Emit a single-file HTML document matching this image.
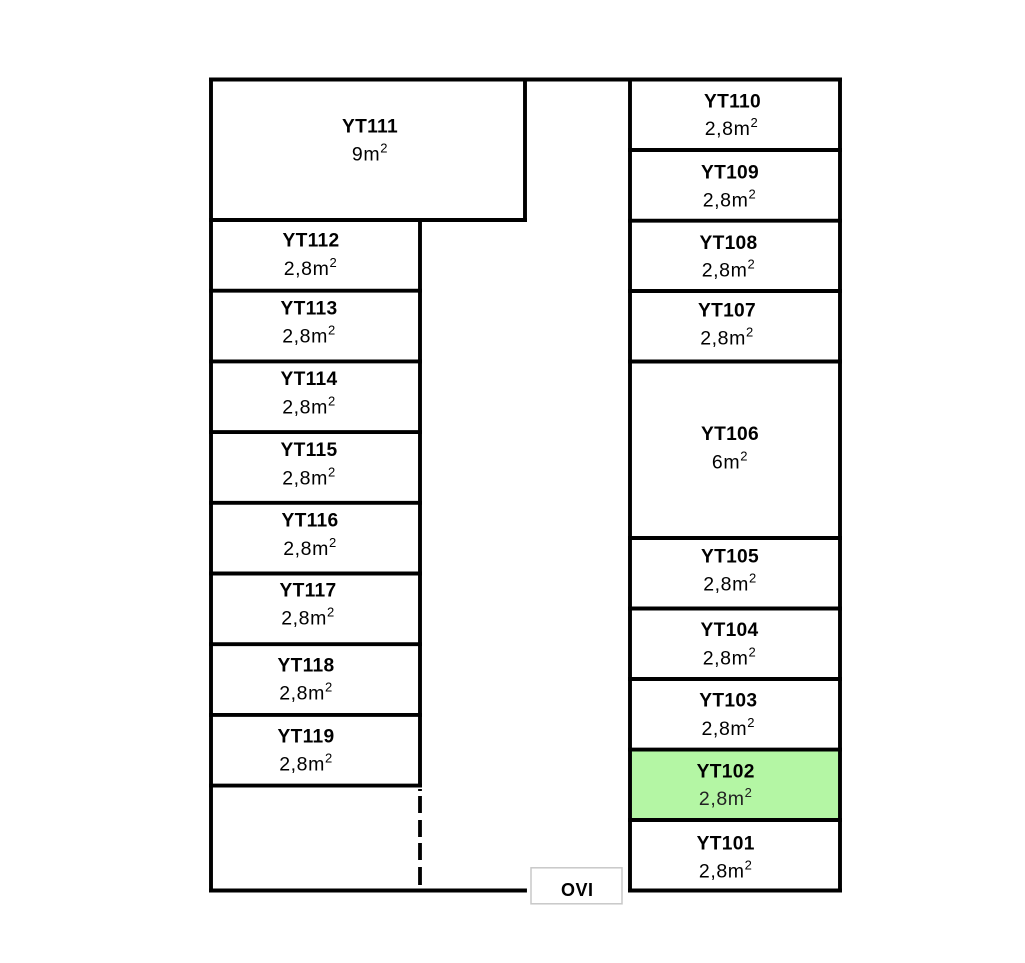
<!DOCTYPE html>
<html>
<head>
<meta charset="utf-8">
<style>
html,body{margin:0;padding:0;background:#fff;}
svg{display:block;}
.l{font-family:"Liberation Sans",Arial,sans-serif;font-weight:bold;font-size:19.2px;letter-spacing:0.3px;fill:#000;}
.v{font-family:"Liberation Sans",Arial,sans-serif;font-size:19.5px;letter-spacing:0.6px;fill:#000;}
</style>
</head>
<body>
<svg width="1025" height="963" viewBox="0 0 1025 963" xmlns="http://www.w3.org/2000/svg">
<rect x="0" y="0" width="1025" height="963" fill="#fff"/>
<rect x="630" y="749.6" width="210" height="70.4" fill="#b4f6a4"/>
<g stroke="#000" stroke-width="3.9" fill="none" stroke-linecap="square">
  <line x1="211" y1="79.5" x2="840" y2="79.5"/>
  <line x1="211" y1="79.5" x2="211" y2="890.5"/>
  <line x1="525" y1="79.5" x2="525" y2="220"/>
  <line x1="211" y1="220" x2="525" y2="220"/>
  <line x1="420" y1="220" x2="420" y2="785.6"/>
  <line x1="211" y1="290.7" x2="420" y2="290.7"/>
  <line x1="211" y1="361.4" x2="420" y2="361.4"/>
  <line x1="211" y1="432.1" x2="420" y2="432.1"/>
  <line x1="211" y1="502.8" x2="420" y2="502.8"/>
  <line x1="211" y1="573.5" x2="420" y2="573.5"/>
  <line x1="211" y1="644.2" x2="420" y2="644.2"/>
  <line x1="211" y1="714.9" x2="420" y2="714.9"/>
  <line x1="211" y1="785.6" x2="420" y2="785.6"/>
  <line x1="211" y1="890.5" x2="525" y2="890.5"/>
  <line x1="630" y1="79.5" x2="630" y2="890.5"/>
  <line x1="840" y1="79.5" x2="840" y2="890.5"/>
  <line x1="630" y1="890.5" x2="840" y2="890.5"/>
  <line x1="630" y1="150" x2="840" y2="150"/>
  <line x1="630" y1="220.7" x2="840" y2="220.7"/>
  <line x1="630" y1="291" x2="840" y2="291"/>
  <line x1="630" y1="361.5" x2="840" y2="361.5"/>
  <line x1="630" y1="538" x2="840" y2="538"/>
  <line x1="630" y1="608.5" x2="840" y2="608.5"/>
  <line x1="630" y1="679" x2="840" y2="679"/>
  <line x1="630" y1="749.6" x2="840" y2="749.6"/>
  <line x1="630" y1="820" x2="840" y2="820"/>
</g>
<g fill="#000">
  <rect x="418.1" y="789" width="3.8" height="2"/>
  <rect x="418.1" y="796" width="3.8" height="17"/>
  <rect x="418.1" y="820" width="3.8" height="17"/>
  <rect x="418.1" y="843" width="3.8" height="17"/>
  <rect x="418.1" y="867" width="3.8" height="18"/>
</g>
<rect x="531" y="867.8" width="91" height="36" fill="#fff" stroke="#c8c8c8" stroke-width="1.5"/>
<text class="l" x="577.3" y="896" text-anchor="middle" style="font-size:18px;letter-spacing:0.5px">OVI</text>

<text class="l" x="370" y="132.7" text-anchor="middle">YT111</text>
<text class="v" x="370" y="160.7" text-anchor="middle">9m<tspan font-size="13" dy="-8">2</tspan></text>

<text class="l" x="311" y="246.7" text-anchor="middle">YT112</text>
<text class="v" x="310.5" y="275" text-anchor="middle">2,8m<tspan font-size="13" dy="-8">2</tspan></text>

<text class="l" x="309" y="314.5" text-anchor="middle">YT113</text>
<text class="v" x="309" y="342.5" text-anchor="middle">2,8m<tspan font-size="13" dy="-8">2</tspan></text>

<text class="l" x="309" y="385" text-anchor="middle">YT114</text>
<text class="v" x="309" y="413.3" text-anchor="middle">2,8m<tspan font-size="13" dy="-8">2</tspan></text>

<text class="l" x="309" y="456" text-anchor="middle">YT115</text>
<text class="v" x="309" y="484.3" text-anchor="middle">2,8m<tspan font-size="13" dy="-8">2</tspan></text>

<text class="l" x="310" y="526.7" text-anchor="middle">YT116</text>
<text class="v" x="310" y="555" text-anchor="middle">2,8m<tspan font-size="13" dy="-8">2</tspan></text>

<text class="l" x="308" y="596.5" text-anchor="middle">YT117</text>
<text class="v" x="308" y="624.5" text-anchor="middle">2,8m<tspan font-size="13" dy="-8">2</tspan></text>

<text class="l" x="306" y="671.5" text-anchor="middle">YT118</text>
<text class="v" x="306" y="699.5" text-anchor="middle">2,8m<tspan font-size="13" dy="-8">2</tspan></text>

<text class="l" x="306" y="742.5" text-anchor="middle">YT119</text>
<text class="v" x="306" y="770.5" text-anchor="middle">2,8m<tspan font-size="13" dy="-8">2</tspan></text>

<text class="l" x="732.5" y="107.5" text-anchor="middle">YT110</text>
<text class="v" x="731.5" y="135" text-anchor="middle">2,8m<tspan font-size="13" dy="-8">2</tspan></text>

<text class="l" x="730" y="178.3" text-anchor="middle">YT109</text>
<text class="v" x="729.5" y="206.7" text-anchor="middle">2,8m<tspan font-size="13" dy="-8">2</tspan></text>

<text class="l" x="728.5" y="249" text-anchor="middle">YT108</text>
<text class="v" x="728.5" y="276.7" text-anchor="middle">2,8m<tspan font-size="13" dy="-8">2</tspan></text>

<text class="l" x="727" y="316.5" text-anchor="middle">YT107</text>
<text class="v" x="727" y="344.5" text-anchor="middle">2,8m<tspan font-size="13" dy="-8">2</tspan></text>

<text class="l" x="730" y="440" text-anchor="middle">YT106</text>
<text class="v" x="730" y="468.3" text-anchor="middle">6m<tspan font-size="13" dy="-8">2</tspan></text>

<text class="l" x="730" y="562.7" text-anchor="middle">YT105</text>
<text class="v" x="730" y="590.7" text-anchor="middle">2,8m<tspan font-size="13" dy="-8">2</tspan></text>

<text class="l" x="729.5" y="636" text-anchor="middle">YT104</text>
<text class="v" x="729.5" y="664.3" text-anchor="middle">2,8m<tspan font-size="13" dy="-8">2</tspan></text>

<text class="l" x="728.3" y="706.7" text-anchor="middle">YT103</text>
<text class="v" x="728.3" y="735" text-anchor="middle">2,8m<tspan font-size="13" dy="-8">2</tspan></text>

<text class="l" x="725.7" y="777.7" text-anchor="middle">YT102</text>
<text class="v" x="725.7" y="805" text-anchor="middle" style="fill:#222">2,8m<tspan font-size="13" dy="-8">2</tspan></text>

<text class="l" x="725.7" y="849.3" text-anchor="middle">YT101</text>
<text class="v" x="725.7" y="877.3" text-anchor="middle">2,8m<tspan font-size="13" dy="-8">2</tspan></text>
</svg>
</body>
</html>
